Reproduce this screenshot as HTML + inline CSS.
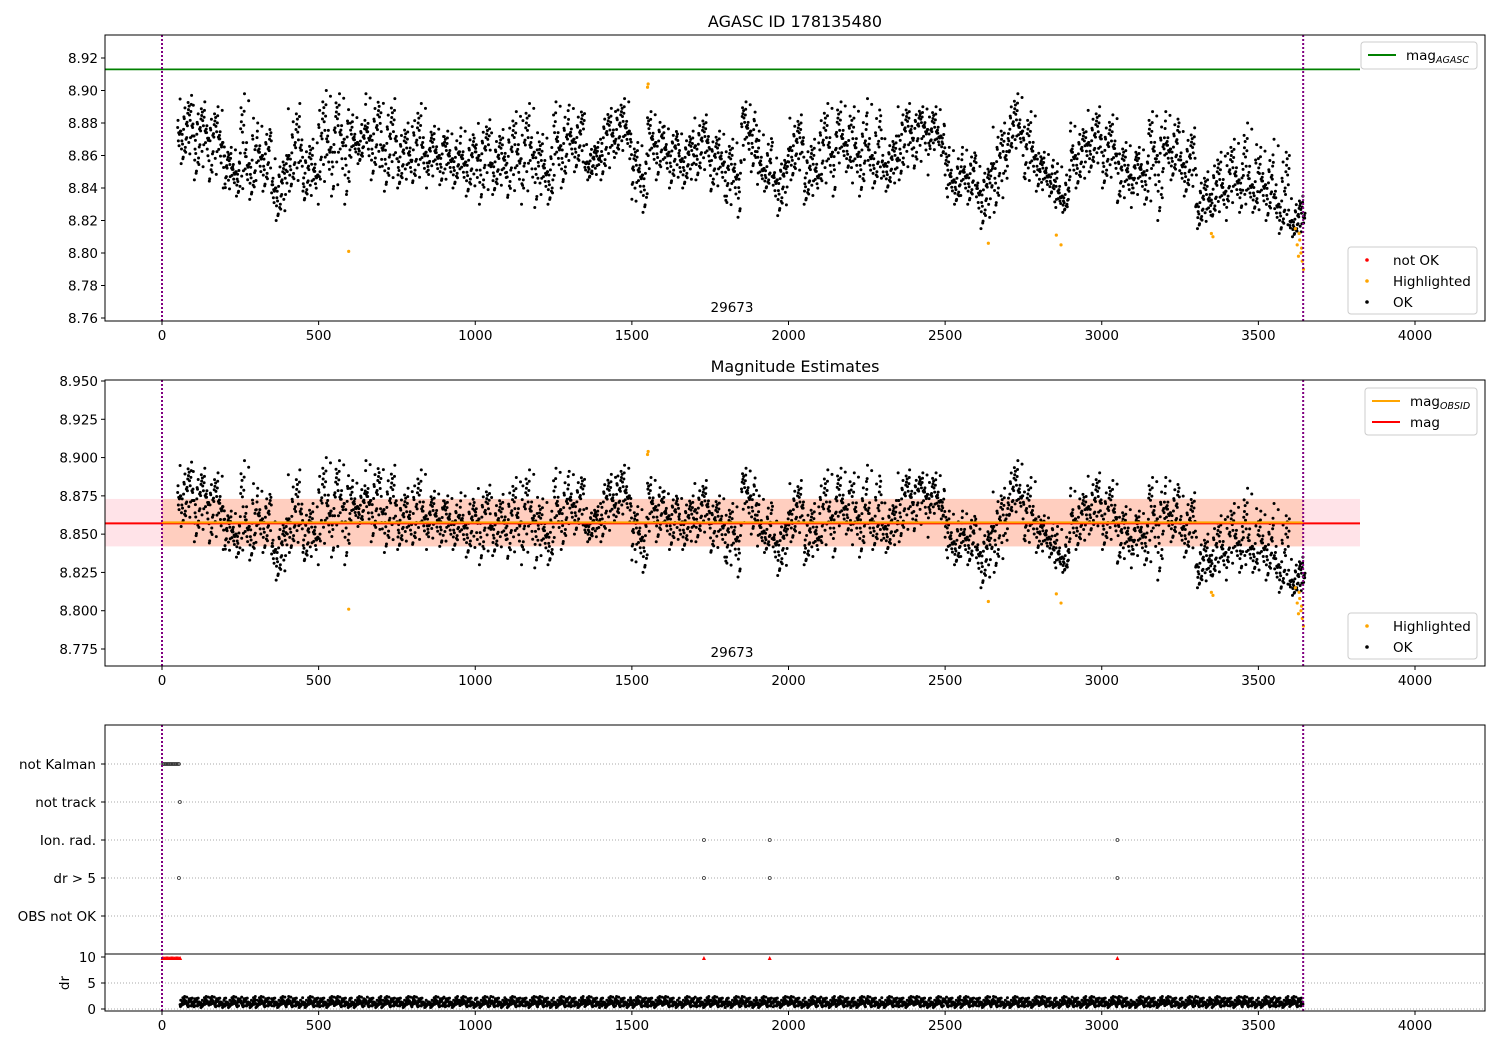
<!DOCTYPE html>
<html><head><meta charset="utf-8"><style>
body{margin:0;background:#fff}
svg{display:block;font-family:"DejaVu Sans","Liberation Sans",sans-serif}
</style></head><body>
<svg id="chart" width="1500" height="1050" viewBox="0 0 1500 1050" xmlns="http://www.w3.org/2000/svg"></svg>
<script>
// ---- data ----
const binStart = [50,100,150,200,250,300,350,400,450,500,550,600,650,700,750,800,850,900,950,1000,1050,1100,1150,1200,1250,1300,1350,1400,1450,1500,1550,1600,1650,1700,1750,1800,1850,1900,1950,2000,2050,2100,2150,2200,2250,2300,2350,2400,2450,2500,2550,2600,2650,2700,2750,2800,2850,2900,2950,3000,3050,3100,3150,3200,3250,3300,3350,3400,3450,3500,3550,3600];
const magMean = [8.875,8.872,8.868,8.85,8.855,8.86,8.84,8.86,8.848,8.865,8.87,8.868,8.872,8.866,8.858,8.862,8.86,8.858,8.856,8.86,8.855,8.858,8.862,8.85,8.866,8.87,8.856,8.87,8.875,8.848,8.868,8.862,8.858,8.866,8.856,8.848,8.875,8.852,8.845,8.865,8.848,8.862,8.868,8.862,8.86,8.855,8.872,8.876,8.872,8.845,8.848,8.838,8.855,8.875,8.86,8.848,8.835,8.86,8.868,8.862,8.848,8.85,8.86,8.864,8.855,8.83,8.838,8.845,8.842,8.842,8.83,8.82];
const magLo = [8.855,8.845,8.84,8.835,8.833,8.838,8.82,8.838,8.83,8.835,8.83,8.855,8.845,8.838,8.84,8.84,8.842,8.84,8.835,8.83,8.836,8.83,8.828,8.83,8.84,8.85,8.845,8.845,8.858,8.825,8.845,8.84,8.84,8.845,8.835,8.822,8.85,8.838,8.823,8.845,8.83,8.835,8.85,8.835,8.84,8.838,8.845,8.848,8.86,8.83,8.83,8.815,8.825,8.86,8.838,8.835,8.825,8.84,8.85,8.84,8.828,8.83,8.82,8.845,8.835,8.815,8.82,8.825,8.825,8.82,8.812,8.81];
const magHi = [8.897,8.893,8.89,8.865,8.898,8.88,8.86,8.892,8.87,8.9,8.898,8.885,8.898,8.895,8.88,8.892,8.878,8.875,8.877,8.882,8.876,8.887,8.892,8.873,8.893,8.891,8.868,8.889,8.895,8.868,8.887,8.878,8.875,8.885,8.875,8.87,8.893,8.875,8.86,8.885,8.87,8.892,8.893,8.89,8.895,8.872,8.892,8.89,8.89,8.865,8.865,8.855,8.88,8.898,8.887,8.862,8.855,8.88,8.89,8.885,8.868,8.865,8.887,8.887,8.877,8.85,8.862,8.87,8.88,8.865,8.87,8.835];
const hlT = [596,1550,1552,2638,2855,2870,3350,3355,3618,3624,3628,3632,3636,3640,3644,3630,3638];
const hlMag = [8.801,8.902,8.904,8.806,8.811,8.805,8.812,8.810,8.815,8.805,8.798,8.808,8.800,8.795,8.790,8.812,8.803];
const magAgasc = 8.913;
const magObs = 8.857, magObsLo = 8.842, magObsHi = 8.873;
const obsStart = 0, obsEnd = 3643;
const xTicks = [0,500,1000,1500,2000,2500,3000,3500,4000];
const y1Ticks = [8.76,8.78,8.80,8.82,8.84,8.86,8.88,8.90,8.92];
const y2Ticks = [8.775,8.800,8.825,8.850,8.875,8.900,8.925,8.950];
const flagCats = ["not Kalman","not track","Ion. rad.","dr > 5","OBS not OK"];
const notKalmanT = [2,6,10,14,18,22,26,30,34,38,42,46,50,54];
const notTrackT = [57];
const ionRadT = [1730,1940,3050];
const drBigT = [54,1730,1940,3050];
const drMean = 1.2, drLo = 0.3, drHi = 2.4;
const drOverT = [2,6,10,14,18,22,26,30,34,38,42,46,50,54,58,1730,1940,3050];

// ---- helpers ----
const svg = document.getElementById('chart');
const NS = 'http://www.w3.org/2000/svg';
function mk(tag, attrs, parent){const e=document.createElementNS(NS,tag);for(const k in attrs)e.setAttribute(k,attrs[k]);(parent||svg).appendChild(e);return e;}
const X0=105,X1=1485;
const xS = t => 162 + t*(1253/4000);
const y1S = v => 318 - (v-8.76)*1625;
const y2S = v => 649 - (v-8.775)*(268/0.175);
const drS = v => 1009 - v*5.2;
// visual spread pattern (normalized offsets), irregular order
const pattern = [0.1,-0.55,0.35,-0.05,0.8,-0.3,0.2,-0.85,0.45,0.0,-0.2,0.65,-0.45,0.15,-0.1,1.0,-0.65,0.3,-0.35,0.05,0.55,-1.0,0.25,-0.15,0.4,-0.7,0.9,-0.25,0.1,-0.4,0.6,-0.05,0.2,-0.6,0.75,-0.2,0.0,0.3,-0.8,0.5,-0.1,0.15,-0.5,0.7,-0.3];
const perm = [0,17,5,31,12,40,3,26,9,36,21,1,44,14,29,7,38,19,24,2,33,11,42,16,27,6,35,22,13,39,4,30,18,43,8,25,37,10,20,34,15,41,23,28,32];

function frame(top,bot,name){
  const r=mk('rect',{x:X0,y:top,width:X1-X0,height:bot-top,fill:'none',stroke:'#000','stroke-width':1});
  
  
}
function xAxis(bot,name){
  const g=mk('g',{});
  
  
  xTicks.forEach(t=>{
    mk('line',{x1:xS(t),x2:xS(t),y1:bot,y2:bot+4,stroke:'#000'},g);
    const tx=mk('text',{x:xS(t),y:bot+19,'text-anchor':'middle','font-size':13.5},g);tx.textContent=t;
  });
}
function yAxis(ticks,scale,dec,name){
  const g=mk('g',{});
  
  
  ticks.forEach(v=>{
    mk('line',{x1:X0-4,x2:X0,y1:scale(v),y2:scale(v),stroke:'#000'},g);
    const tx=mk('text',{x:X0-7,y:scale(v)+5,'text-anchor':'end','font-size':13.5},g);tx.textContent=v.toFixed(dec);
  });
}
function vlines(top,bot){
  [obsStart,obsEnd].forEach(t=>{
    const l=mk('line',{x1:xS(t),x2:xS(t),y1:top,y2:bot,stroke:'#800080','stroke-width':2,'stroke-dasharray':'2,2'});
    
    
  });
}
function scatter(scale,name){
  const g=mk('g',{});
  
  
  const n=pattern.length;
  binStart.forEach((b,i)=>{
    for(let k=0;k<n;k++){
      const t=b+50*k/n;
      const p=pattern[perm[(k+i*7)%n]];
      const v=p>=0?magMean[i]+p*(magHi[i]-magMean[i]):magMean[i]+p*(magMean[i]-magLo[i]);
      mk('circle',{cx:xS(t),cy:scale(v),r:1.5,fill:'#000'},g);
    }
  });
  const h=mk('g',{});
  
  
  hlT.forEach((t,i)=>mk('circle',{cx:xS(t),cy:scale(hlMag[i]),r:1.6,fill:'orange'},h));
}
function text(x,y,s,size,anchor,name){
  const t=mk('text',{x:x,y:y,'font-size':size,'text-anchor':anchor||'start'});t.textContent=s;
  
  
  return t;
}
function legend(x,y,w,h,entries,name){
  const g=mk('g',{});
  
  
  mk('rect',{x:x,y:y,width:w,height:h,fill:'#fff','fill-opacity':0.85,stroke:'#ccc',rx:3},g);
  entries.forEach((e,i)=>{
    const cy=y+13+i*21;
    if(e.type==='line') mk('line',{x1:x+7,x2:x+35,y1:cy,y2:cy,stroke:e.color,'stroke-width':2},g);
    else mk('circle',{cx:x+19,cy:cy,r:1.8,fill:e.color},g);
    const t=mk('text',{x:x+45,y:cy+5,'font-size':13.5},g);t.textContent=e.label;
    if(e.sub){const s=mk('tspan',{'font-size':9.5,'font-style':'italic',dy:3},t);s.textContent=e.sub;}
  });
}

// ---- panel 1 ----
text(795,27,'AGASC ID 178135480',16,'middle','panel1-title');
const ag=mk('line',{x1:X0,x2:1360,y1:y1S(magAgasc),y2:y1S(magAgasc),stroke:'green','stroke-width':1.8});


scatter(y1S,'ok-points-panel1');
vlines(35,321);
frame(35,321,'panel1-frame');
xAxis(321,'panel1-x-axis');
yAxis(y1Ticks,y1S,2,'panel1-y-axis');
text(732,312,'29673',13.5,'middle','obsid-label-1');
legend(1361,42,116,27,[{type:'line',color:'green',label:'mag',sub:'AGASC'}],'legend-agasc');
legend(1348,247,129,67,[{type:'dot',color:'red',label:'not OK'},{type:'dot',color:'orange',label:'Highlighted'},{type:'dot',color:'#000',label:'OK'}],'legend-points-1');

// ---- panel 2 ----
text(795,372,'Magnitude Estimates',16,'middle','panel2-title');
const pb=mk('rect',{x:X0,y:y2S(magObsHi),width:1360-X0,height:y2S(magObsLo)-y2S(magObsHi),fill:'#ffc0cb','fill-opacity':0.45});


const ob=mk('rect',{x:xS(obsStart),y:y2S(magObsHi),width:xS(obsEnd)-xS(obsStart),height:y2S(magObsLo)-y2S(magObsHi),fill:'#ffa060','fill-opacity':0.3});


scatter(y2S,'ok-points-panel2');
const ml=mk('line',{x1:X0,x2:1360,y1:y2S(magObs),y2:y2S(magObs),stroke:'red','stroke-width':2});


const mo=mk('line',{x1:xS(obsStart),x2:xS(obsEnd),y1:y2S(magObs)-1,y2:y2S(magObs)-1,stroke:'orange','stroke-width':2});


vlines(380,666);
frame(380,666,'panel2-frame');
xAxis(666,'panel2-x-axis');
yAxis(y2Ticks,y2S,3,'panel2-y-axis');
text(732,657,'29673',13.5,'middle','obsid-label-2');
legend(1365,388,112,47,[{type:'line',color:'orange',label:'mag',sub:'OBSID'},{type:'line',color:'red',label:'mag'}],'legend-mag');
legend(1348,613,129,46,[{type:'dot',color:'orange',label:'Highlighted'},{type:'dot',color:'#000',label:'OK'}],'legend-points-2');

// ---- panel 3 ----
const catY = i => 764 + i*38;
flagCats.forEach((c,i)=>{
  const gl=mk('line',{x1:X0,x2:X1,y1:catY(i),y2:catY(i),stroke:'#aaa','stroke-dasharray':'1,2'});
  
  
  mk('line',{x1:X0-4,x2:X0,y1:catY(i),y2:catY(i),stroke:'#000'});
  text(X0-9,catY(i)+5,c,13.5,'end','flag-label');
});
[[notKalmanT,0],[notTrackT,1],[ionRadT,2],[drBigT,3]].forEach(([arr,ci])=>{
  arr.forEach(t=>{
    const c=mk('circle',{cx:xS(t),cy:catY(ci),r:1.5,fill:'none',stroke:'#333','stroke-width':0.8});
    
    
  });
});
[10,5,0].forEach(v=>{
  if(v!==10){const gl=mk('line',{x1:X0,x2:X1,y1:drS(v),y2:drS(v),stroke:'#aaa','stroke-dasharray':'1,2'});
  }
  mk('line',{x1:X0-4,x2:X0,y1:drS(v),y2:drS(v),stroke:'#000'});
  text(X0-9,drS(v)+5,String(v),13.5,'end','dr-tick-label');
});
const drl=text(69,983,'dr',13.5,'middle','dr-axis-title');drl.setAttribute('transform','rotate(-90 69 983)');
const dg=mk('g',{});


binStart.forEach((b,i)=>{
  const n=pattern.length;
  for(let k=0;k<n;k++){
    const t=b+50*k/n;
    if(t<57||t>3643)continue;
    const p=pattern[perm[(k*2+i*11)%n]];
    const v=p>=0?drMean+p*(drHi-drMean):drMean+p*(drMean-drLo);
    mk('circle',{cx:xS(t),cy:drS(v),r:1.5,fill:'#000'},dg);
  }
});
const rg=mk('g',{});


drOverT.forEach(t=>mk('path',{d:`M${xS(t)-2},${drS(9.8)+2} L${xS(t)+2},${drS(9.8)+2} L${xS(t)},${drS(9.8)-2} Z`,fill:'red'},rg));
const sep=mk('line',{x1:X0,x2:X1,y1:954,y2:954,stroke:'#000'});


vlines(725,1011);
frame(725,1011,'panel3-frame');
xAxis(1011,'panel3-x-axis');
</script>
</body></html>
